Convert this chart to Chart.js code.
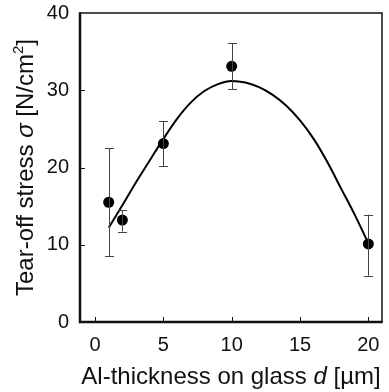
<!DOCTYPE html>
<html>
<head>
<meta charset="utf-8">
<script src="https://cdn.jsdelivr.net/npm/chart.js@4/dist/chart.umd.min.js"></script>
<style>
  html, body { margin: 0; padding: 0; background: #fff; }
  #wrap { width: 389px; height: 392px; }
</style>
</head>
<body>
<div id="wrap"><canvas id="chart" width="389" height="392"></canvas></div>
<script>
// measured points
const thickness = [1, 2, 5, 10, 20];
const stress = [15.5, 13.2, 23.1, 33.1, 10.1];
const stressLow = [8.5, 11.7, 20.2, 30.1, 6.0];
const stressHigh = [22.5, 14.5, 26.0, 36.1, 13.9];

// fitted curve
const fitX = [1, 2, 3, 4, 5, 6, 7, 8, 9, 10, 11, 12, 13, 14, 15, 16, 17, 18, 19, 20];
const fitY = [12.2, 15.1, 18.1, 20.9, 23.7, 26.3, 28.4, 29.9, 30.8, 31.2, 31.0, 30.4, 29.4, 28.0, 26.1, 23.7, 20.7, 17.3, 13.9, 10.2];

const xTicks = [0, 5, 10, 15, 20];
const yTicks = [0, 10, 20, 30, 40];

const FONT = '"Liberation Sans", Arial, sans-serif';

const framePlugin = {
    id: 'frame',
    afterDatasetsDraw(chart) {
        const ctx = chart.ctx;
        const xs = chart.scales.x, ys = chart.scales.y;

        // error bars
        ctx.save();
        ctx.strokeStyle = '#444';
        ctx.lineWidth = 1;
        thickness.forEach((t, i) => {
            const px = Math.round(xs.getPixelForValue(t)) + 0.5;
            const lo = ys.getPixelForValue(stressLow[i]);
            const hi = ys.getPixelForValue(stressHigh[i]);
            ctx.beginPath();
            ctx.moveTo(px, lo); ctx.lineTo(px, hi);
            ctx.moveTo(px - 4.5, Math.round(lo) + 0.5); ctx.lineTo(px + 4.5, Math.round(lo) + 0.5);
            ctx.moveTo(px - 4.5, Math.round(hi) + 0.5); ctx.lineTo(px + 4.5, Math.round(hi) + 0.5);
            ctx.stroke();
        });
        ctx.restore();
    },
    afterDraw(chart) {
        const ctx = chart.ctx;
        const a = chart.chartArea;
        const xs = chart.scales.x, ys = chart.scales.y;
        ctx.save();
        ctx.strokeStyle = '#111';
        // inward ticks
        ctx.lineWidth = 1;
        ctx.beginPath();
        xTicks.forEach(v => {
            const px = Math.round(xs.getPixelForValue(v)) + 0.5;
            ctx.moveTo(px, a.bottom); ctx.lineTo(px, a.bottom - 5);
        });
        yTicks.slice(1, -1).forEach(v => {
            const py = Math.round(ys.getPixelForValue(v)) + 0.5;
            ctx.moveTo(a.left, py); ctx.lineTo(a.left + 5, py);
        });
        ctx.stroke();
        // frame
        ctx.lineWidth = 1.5;
        ctx.beginPath();
        ctx.moveTo(a.left, a.top); ctx.lineTo(a.right, a.top); ctx.lineTo(a.right, a.bottom);
        ctx.stroke();
        ctx.lineWidth = 2.5;
        ctx.beginPath();
        ctx.moveTo(a.left, a.top - 0.75); ctx.lineTo(a.left, a.bottom); ctx.lineTo(a.right + 0.75, a.bottom);
        ctx.stroke();

        // axis titles with mixed styles
        ctx.fillStyle = '#111';
        ctx.textBaseline = 'alphabetic';
        const drawParts = (parts, x, y) => {
            let total = 0;
            parts.forEach(p => { ctx.font = p.f; total += ctx.measureText(p.t).width; });
            let cx = x - total / 2;
            parts.forEach(p => {
                ctx.font = p.f;
                ctx.fillText(p.t, cx, y + (p.dy || 0));
                cx += ctx.measureText(p.t).width;
            });
        };
        const n = '24px ' + FONT, it = 'italic 24px ' + FONT, sup = '15px ' + FONT;
        drawParts([
            { t: 'Al-thickness on glass ', f: n },
            { t: 'd', f: it },
            { t: ' [\u00b5m]', f: n }
        ], 231, 384);

        ctx.translate(33, (a.top + a.bottom) / 2);
        ctx.rotate(-Math.PI / 2);
        drawParts([
            { t: 'Tear-off stress ', f: n },
            { t: '\u03c3', f: it },
            { t: ' [N/cm', f: n },
            { t: '2', f: sup, dy: -10 },
            { t: ']', f: n }
        ], 0, 0);
        ctx.restore();
    }
};

new Chart(document.getElementById('chart'), {
    type: 'scatter',
    data: {
        datasets: [{
            label: 'fit',
            data: fitX.map((x, i) => ({ x: x, y: fitY[i] })),
            showLine: true,
            borderColor: '#000',
            borderWidth: 2,
            pointRadius: 0,
            tension: 0.4,
            cubicInterpolationMode: 'monotone',
            order: 2
        }, {
            label: 'measured',
            data: thickness.map((x, i) => ({ x: x, y: stress[i] })),
            showLine: false,
            pointRadius: 5.5,
            pointBackgroundColor: '#000',
            pointBorderColor: '#000',
            pointBorderWidth: 0,
            order: 1
        }]
    },
    options: {
        responsive: false,
        animation: false,
        layout: { padding: { left: 0, top: 13, right: 7, bottom: 0 } },
        plugins: { legend: { display: false }, tooltip: { enabled: false } },
        scales: {
            x: {
                type: 'linear',
                min: -1.1,
                max: 21,
                afterBuildTicks: s => { s.ticks = xTicks.map(v => ({ value: v })); },
                afterFit: s => { s.height = 70; s.paddingLeft = 0; s.paddingRight = 0; },
                grid: { display: false, drawTicks: false },
                border: { display: false },
                ticks: { color: '#111', font: { family: FONT, size: 20 }, padding: 11 }
            },
            y: {
                type: 'linear',
                min: 0,
                max: 40,
                afterBuildTicks: s => { s.ticks = yTicks.map(v => ({ value: v })); },
                afterFit: s => { s.width = 80; s.paddingTop = 0; s.paddingBottom = 0; },
                grid: { display: false, drawTicks: false },
                border: { display: false },
                ticks: { color: '#111', font: { family: FONT, size: 20 }, padding: 11 }
            }
        }
    },
    plugins: [framePlugin]
});
</script>
</body>
</html>
